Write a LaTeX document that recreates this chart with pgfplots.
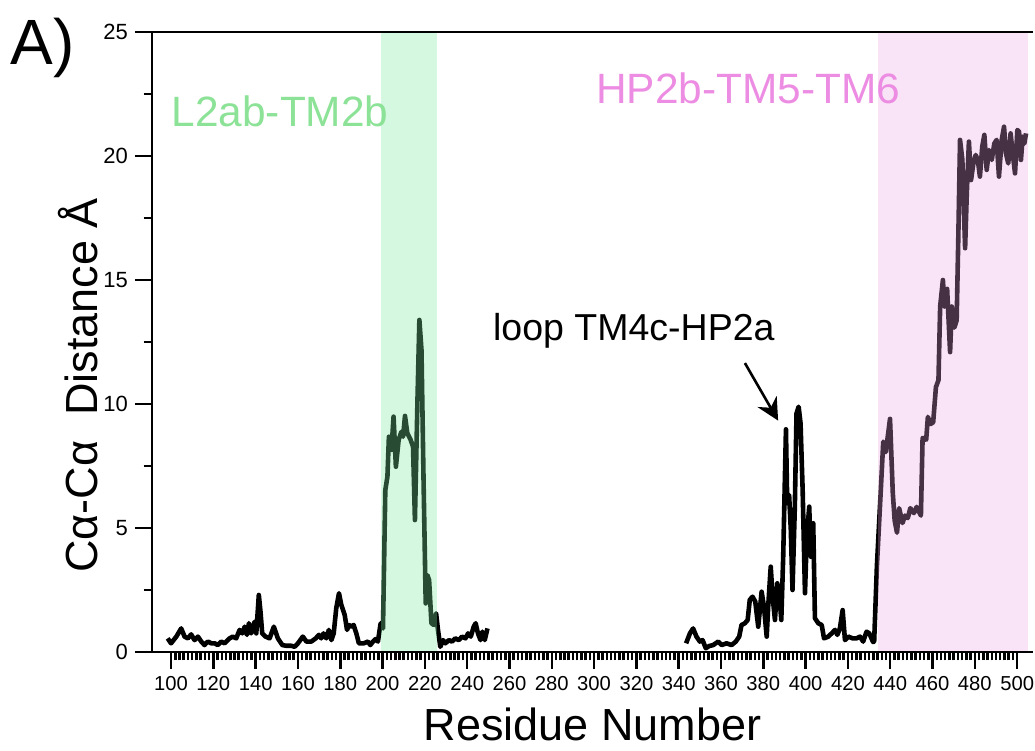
\documentclass[border=0pt]{standalone}
\usepackage{fontspec}
\setmainfont{Liberation Sans}
\usepackage{pgfplots}
\pgfplotsset{compat=1.18}
\usetikzlibrary{arrows.meta}
\definecolor{bandgreen}{RGB}{125,234,162}
\definecolor{bandpink}{RGB}{233,164,226}
\definecolor{txtgreen}{RGB}{140,226,150}
\definecolor{txtpink}{RGB}{236,140,226}

\begin{document}
\begin{tikzpicture}
\begin{axis}[name=ax, scale only axis, width=440.5pt, height=310pt,
  xmin=91, xmax=507.5, ymin=0, ymax=25,
  xtick={100,120,...,500}, ytick={0,5,...,25},
  minor x tick num=9, minor y tick num=1,
  tick align=outside, tick pos=left,
  major tick length=8.5pt, minor tick length=4.2pt,
  tick style={black, line width=1.25pt},
  axis line style={draw=none},
  /pgf/number format/assume math mode=true,
  xticklabel style={font=\fontsize{10.1}{11}\selectfont},
  yticklabel style={font=\fontsize{11}{12}\selectfont},
  xlabel={Residue Number}, ylabel={Cα-Cα\ \ Distance Å},
  label style={font=\fontsize{22.5}{24}\selectfont, inner sep=0pt},
  xlabel style={at={(axis description cs:0.5,-0.142)}, anchor=base},
  ylabel style={at={(axis description cs:-0.0624,0.43)}, anchor=base},
  clip=false,
]
% residues 98-250
\addplot[black, line width=2.3pt, line join=round] coordinates {
 (98.4,0.55)(100,0.35)(102.5,0.62)(104.8,0.95)(106.4,0.62)(108,0.55)
 (109.5,0.71)(111.1,0.48)(112.7,0.62)(114.3,0.42)(115.8,0.28)(117.4,0.42)
 (119,0.35)(120.6,0.35)(122.1,0.28)(123.7,0.42)(125.3,0.35)(127.7,0.55)
 (129.2,0.62)(130.8,0.55)(132.4,0.89)(133.7,0.75)(134.8,1.02)(135.9,0.69)
 (136.8,1.16)(137.9,0.75)(139.5,1.22)(140.3,0.75)(141.5,2.30)(142.3,1.62)
 (143.1,0.75)(144.7,0.62)(146.6,0.55)(148.6,1.02)(150.5,0.55)(152.6,0.28)
 (154.5,0.25)(156.9,0.25)(158.4,0.21)(160,0.35)(162.3,0.62)(164,0.42)
 (166.3,0.42)(168.4,0.55)(169.9,0.69)(171,0.55)(172.1,0.75)(173.4,0.55)
 (174.6,0.89)(175.8,0.48)(176.9,0.75)(178.1,1.76)(179.4,2.37)(180.5,1.90)
 (182.1,1.49)(183.2,0.89)(184.1,1.09)(185.2,1.02)(186.3,1.09)(187.6,0.75)
 (188.8,0.35)(191.1,0.35)(193.1,0.42)(194.2,0.28)(195.5,0.42)(196.7,0.52)
 (197.8,0.42)(199.1,1.16)(200.2,0.95)(201.3,6.53)(202.3,7.07)(203.0,8.68)
 (204.2,8.15)(205.2,9.49)(206.3,7.47)(207.6,8.55)(208.9,8.88)(209.7,8.68)
 (210.6,9.52)(211.7,8.82)(213.3,8.55)(214.4,8.28)(215.3,5.32)(216.5,10.16)
 (217.4,13.39)(218.4,12.18)(219.4,6.80)(220.4,1.96)(221.2,3.10)(222,2.90)
 (223.1,1.16)(224.2,1.09)(225.3,1.56)(226.2,0.89)(227.3,0.21)(228.6,0.48)
 (229.7,0.35)(231.3,0.48)(232.8,0.42)(234.4,0.55)(236,0.48)(237.6,0.62)
 (239.2,0.55)(240.4,0.75)(241.7,0.62)(243.1,1.02)(244,1.16)(245.1,0.75)
 (246.3,0.48)(247.2,0.82)(248.3,0.48)(249.6,0.95)
};
% residues 343-505
\addplot[black, line width=2.3pt, line join=round] coordinates {
 (343.5,0.35)(345.3,0.75)(346.8,0.95)(348.4,0.62)(350,0.42)(351.3,0.48)
 (352.8,0.15)(354.4,0.24)(356.3,0.28)(358.7,0.42)(360.3,0.28)(362.6,0.35)
 (365,0.28)(367,0.42)(368.6,0.62)(369.7,1.09)(371.3,1.16)(372.6,1.29)
 (373.6,2.10)(374.9,2.23)(376.2,2.03)(377.6,1.02)(379.2,2.43)(380.3,1.83)
 (381.6,0.62)(382.3,1.83)(383.5,3.44)(384.4,2.23)(385.5,1.29)(386.6,2.77)
 (387.5,2.37)(388.5,1.29)(389.4,3.84)(390.7,8.98)(391.3,6.0)(392.2,6.33)
 (393,4.92)(393.8,2.50)(394.9,5.86)(395.7,9.62)(396.7,9.89)(397.6,9.22)
 (398.6,6.53)(399.7,2.37)(400.5,4.52)(401.7,5.86)(402.5,3.84)(403.6,5.19)
 (404.4,1.36)(406,1.16)(407.6,1.09)(408.7,0.55)(410.7,0.62)(412.3,0.75)
 (413.9,0.89)(415,0.69)(416.2,0.95)(417.5,1.69)(418.6,0.48)(420.2,0.62)
 (422.2,0.55)(424.1,0.55)(425.7,0.62)(427.2,0.42)(428.8,0.82)(430.1,0.75)
 (431.9,0.40)(432.4,0.42)(433.7,3.47)(435.4,6.29)(436.7,8.48)(437.9,8.06)
 (439.9,9.40)(441.2,6.43)(442.1,5.30)(443.2,4.81)(444.2,5.80)(445.8,5.2)
 (447,5.5)(448.3,5.4)(449.5,5.8)(451.2,5.6)(452.5,5.85)(454.5,5.5)
 (455.3,8.63)(457,8.56)
 (457.8,9.48)(459,9.19)(460.3,9.26)(461.6,10.68)(462.8,10.96)(463.6,13.93)
 (464.9,15.0)(465.7,13.93)(466.9,14.64)(468.3,12.09)(469.1,13.93)(470.3,13.08)
 (471.4,13.37)(472.2,16.8)(473,20.65)(474.1,19.84)(475.4,16.28)(476.2,18.5)
 (477.2,20.58)(478.2,19.03)(479.3,19.70)(480.4,20.04)(481.4,19.84)(482.4,19.17)
 (483.5,20.38)(484.5,20.85)(485.6,19.44)(486.7,20.24)(488,19.84)(489.2,20.5)
 (490.3,20.65)(491.4,19.17)(492.7,20.65)(493.8,21.18)(494.7,20.11)(495.8,19.70)
 (496.9,20.91)(497.9,20.11)(499,19.30)(500.1,21.05)(500.9,20.98)(501.8,19.84)
 (502.6,20.78)(503.4,20.5)(504.2,20.91)
};
% shaded regions, on top of the line
\fill[bandgreen, opacity=0.32] (axis cs:199.1,0) rectangle (axis cs:225.6,25);
\fill[bandpink, opacity=0.30] (axis cs:434.2,0) rectangle (axis cs:505.1,25);

\draw[line width=1.35pt] (rel axis cs:1,1) -- (rel axis cs:0,1)
  -- (rel axis cs:0,0) -- (rel axis cs:1,0);

\node[anchor=base west, inner sep=0pt, text=txtgreen,
  font=\fontsize{21.2}{23}\selectfont] at (axis cs:100.1,21.2) {L2ab-TM2b};
\node[anchor=base west, inner sep=0pt, text=txtpink,
  font=\fontsize{21.2}{23}\selectfont] at (axis cs:300.8,22.1) {HP2b-TM5-TM6};
\node[anchor=base west, inner sep=0pt,
  font=\fontsize{18.75}{20}\selectfont] at (axis cs:252.1,12.54) {loop TM4c-HP2a};
\draw[line width=1.3pt, -{Stealth[length=11pt, width=11pt]}]
  (axis cs:371.3,11.65) -- (axis cs:387,9.33);
\node[anchor=base west, inner sep=0pt, font=\fontsize{32}{34}\selectfont]
  at (axis description cs:-0.1612,0.9468) {A)};
\end{axis}
\pgfresetboundingbox
\path ([shift={(-76pt,-49.5pt)}]ax.south west) rectangle ([shift={(1pt,16pt)}]ax.north east);
\end{tikzpicture}
\end{document}
